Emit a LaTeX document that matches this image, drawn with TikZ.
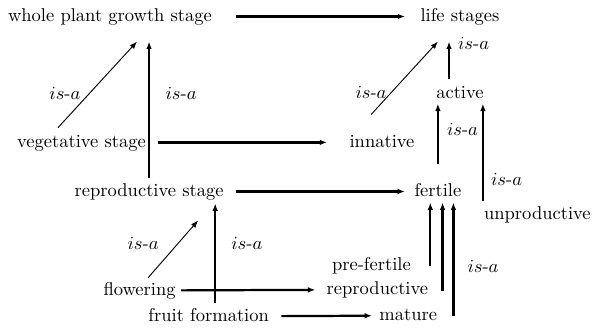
\documentclass[tikz,border=0pt]{standalone}
\usetikzlibrary{arrows.meta,positioning}

\begin{document}
\begin{tikzpicture}[node distance=2cm,on grid,>={Latex[length=4pt,width=3pt]}]
       \tikzstyle{stage}=[inner sep=0pt, text height=6.94pt, text depth=1.94pt]
       \tikzstyle{link}=[->, line width=1.2pt]
       \tikzstyle{thinlink}=[->, line width=0.5pt]
       \tikzstyle{lbl}=[inner sep=0pt]

       \useasboundingbox (-59.4pt,8.9pt) rectangle (260.3pt,-168.8pt);

       \node[stage] (whole) at (0,0) {whole plant growth stage};
       \node[stage] (life) [right=189pt of whole] {life stages};
       \node[stage] (veg) [below left=68pt and 15.4pt of whole] {vegetative stage};
       \node[stage] (reprostage) [below right=26.5pt and 36.5pt of veg] {reproductive stage};
       \node[stage] (flowering) [below left=53.5pt and 5.1pt of reprostage] {flowering};
       \node[stage] (fruit) [below right=14pt and 37.3pt of flowering] {fruit formation};
       \node[stage] (innative) [right=162.3pt of veg] {innative};
       \node[stage] (active) [below=41.6pt of life] {active};
       \node[stage] (fertile) [below left=52.9pt and 11.9pt of active] {fertile};
       \node[stage] (unprod) [below right=12.4pt and 53.7pt of fertile] {unproductive};
       \node[stage] (prefert) [below left=40pt and 35.9pt of fertile] {pre-fertile};
       \node[stage] (reprod) [below right=13pt and 3.2pt of prefert] {reproductive};
       \node[stage] (mature) [below right=14pt and 16.7pt of reprod] {mature};

       % stage links
       \draw[link, shorten <=13pt, shorten >=8.1pt] (whole) -- (life);
       \draw[link, shorten <=6.2pt, shorten >=11.9pt] (veg) -- (innative);
       \draw[link, shorten <=6.5pt, shorten >=4.9pt] (reprostage) -- (fertile);
       \draw[link, shorten <=2.7pt, shorten >=5.9pt] (flowering) -- (reprod);
       \draw[link, shorten <=6.5pt, shorten >=3.8pt] (fruit) -- (mature);

       % is-a links
       \draw[link] ([yshift=2.8pt]reprostage.north) -- ([yshift=-8.9pt]reprostage.north |- whole.south)
             node[lbl, pos=0.62, right=8.3pt] (l2) {$is$-$a$};
       \draw[link] ([xshift=3.5pt,yshift=2.8pt]fruit.north) -- ([xshift=3.5pt,yshift=-1.8pt]fruit.north |- reprostage.south)
             node[lbl, pos=0.6, right=8.1pt] (l9) {$is$-$a$};
       \draw[link] ([xshift=-5.9pt,yshift=3.3pt]active.north) -- ([xshift=-5.9pt,yshift=-8.9pt]active.north |- life.south)
             node[lbl, pos=0.95, right=4.3pt] (l4) {$is$-$a$};
       \draw[link] ([yshift=10.4pt]fertile.north) -- ([yshift=-0.8pt]fertile.north |- active.south)
             node[lbl, pos=0.565, right=4.3pt] (l5) {$is$-$a$};
       \draw[link] ([xshift=-29.4pt,yshift=2.8pt]unprod.north) -- ([xshift=-29.4pt,yshift=-0.8pt]unprod.north |- active.south)
             node[lbl, pos=0.22, right=3.8pt] (l6) {$is$-$a$};
       \draw[link] ([xshift=10.3pt]prefert.east) -- ([xshift=10.3pt,yshift=-1.3pt]prefert.east |- fertile.south);
       \draw[link] ([xshift=7.6pt,yshift=-0.9pt]reprod.east) -- ([xshift=7.6pt,yshift=-1.3pt]reprod.east |- fertile.south);
       \draw[link] ([xshift=8.6pt,yshift=-0.3pt]mature.east) -- ([xshift=8.6pt,yshift=-1.3pt]mature.east |- fertile.south)
             node[lbl, pos=0.434, right=7pt] (l7) {$is$-$a$};

       \draw[thinlink] ([xshift=-12.7pt,yshift=3.3pt]veg.north) -- ([xshift=14.6pt,yshift=-8.9pt]whole.south)
             node[lbl, pos=0.4, left=4.7pt] (l1) {$is$-$a$};
       \draw[thinlink] ([xshift=-5.9pt,yshift=10.4pt]innative.north) -- ([xshift=-11.9pt,yshift=-8.9pt]life.south)
             node[lbl, pos=0.307, left=2.5pt] (l3) {$is$-$a$};
       \draw[thinlink] ([xshift=4.6pt,yshift=2.3pt]flowering.north) -- ([xshift=26.5pt,yshift=-11pt]reprostage.south)
             node[lbl, pos=0.603, left=10.4pt] (l8) {$is$-$a$};

     \end{tikzpicture}
\end{document}
